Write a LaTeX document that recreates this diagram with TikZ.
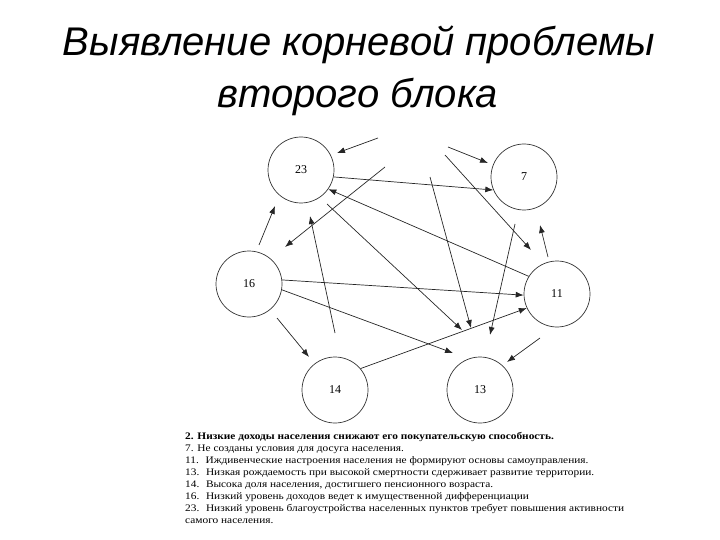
\documentclass[tikz,border=0pt]{standalone}
\usepackage{fontspec}
\setmainfont{Liberation Serif}
\newfontfamily\titlefont{Liberation Sans}
\newfontfamily\legendfont[FakeStretch=1.135]{Liberation Serif}
\usetikzlibrary{arrows.meta}
\tikzset{
  circ/.style={circle, draw=black!80, line width=0.7pt, minimum size=66pt, inner sep=0pt, font=\fontsize{12}{13}\selectfont},
  arr/.style={draw=black!85, line width=0.7pt, -{Latex[length=8pt,width=6pt]}},
  legend/.style={anchor=west, inner sep=0pt, font=\legendfont\fontsize{10}{11}\selectfont},
  ttl/.style={inner sep=0pt, font=\titlefont\itshape\fontsize{40}{44}\selectfont}
}
\begin{document}
\begin{tikzpicture}[x=1pt, y=-1pt]
\useasboundingbox (0,0) rectangle (720,540);
\node[ttl] (t1) at (359,45) {Выявление корневой проблемы};
\node[ttl] (t2) at (358,97) {второго блока};

\node[circ] (c23) at (301,170) {23};
\node[circ] (c7) at (524,177) {7};
\node[circ] (c16) at (249,284) {16};
\node[circ] (c11) at (557,294) {11};
\node[circ] (c14) at (335,390) {14};
\node[circ] (c13) at (480,390) {13};

% free coordinates
\coordinate (a1s) at (378,138); \coordinate (a1e) at (337,153);
\coordinate (a2s) at (448,147); \coordinate (a2e) at (488,163);
\coordinate (a4s) at (445,155); \coordinate (a4e) at (531,250);
\coordinate (a5s) at (385,167); \coordinate (a5e) at (285,247);
\coordinate (a6s) at (430,177); \coordinate (a6e) at (471,328);
\coordinate (a7s) at (515,224); \coordinate (a7e) at (490,335);
\coordinate (a8s) at (259,245); \coordinate (a8e) at (275,206);
\coordinate (a9s) at (335,333); \coordinate (a9e) at (310,216);
\coordinate (a11s) at (548,257); \coordinate (a11e) at (540,225);
\coordinate (a12s) at (327,204); \coordinate (a12e) at (462,330);
\coordinate (a14e) at (453,353);
\coordinate (a16s) at (277,318); \coordinate (a16e) at (309,357);
\coordinate (a17s) at (540,338); \coordinate (a17e) at (507,362);

\draw[arr] (a1s) -- (a1e);
\draw[arr] (a2s) -- (a2e);
\draw[arr] (c23.-12) -- (c7.203);
\draw[arr] (a4s) -- (a4e);
\draw[arr] (a5s) -- (a5e);
\draw[arr] (a6s) -- (a6e);
\draw[arr] (a7s) -- (a7e);
\draw[arr] (a8s) -- (a8e);
\draw[arr] (a9s) -- (a9e);
\draw[arr] (c11.148) -- (c23.-35);
\draw[arr] (a11s) -- (a11e);
\draw[arr] (a12s) -- (a12e);
\draw[arr] (c16.7) -- (c11.182);
\draw[arr] (c16.-10) -- (a14e);
\draw[arr] (c14.40) -- (c11.205);
\draw[arr] (a16s) -- (a16e);
\draw[arr] (a17s) -- (a17e);

\node[legend, font=\legendfont\bfseries\fontsize{10}{11}\selectfont] (l1) at (185,437) {2. Низкие доходы населения снижают его покупательскую способность.};
\node[legend] (l2) at (185,449) {7. Не созданы условия для досуга населения.};
\node[legend] (l3) at (185,461) {11. \ Иждивенческие настроения населения не формируют основы самоуправления.};
\node[legend] (l4) at (185,473) {13. \ Низкая рождаемость при высокой смертности сдерживает развитие территории.};
\node[legend] (l5) at (185,485) {14. \ Высока доля населения, достигшего пенсионного возраста.};
\node[legend] (l6) at (185,497) {16. \ Низкий уровень доходов ведет к имущественной дифференциации};
\node[legend] (l7) at (185,509) {23. \ Низкий уровень благоустройства населенных пунктов требует повышения активности};
\node[legend] (l8) at (185,521) {самого населения.};
\end{tikzpicture}
\end{document}
